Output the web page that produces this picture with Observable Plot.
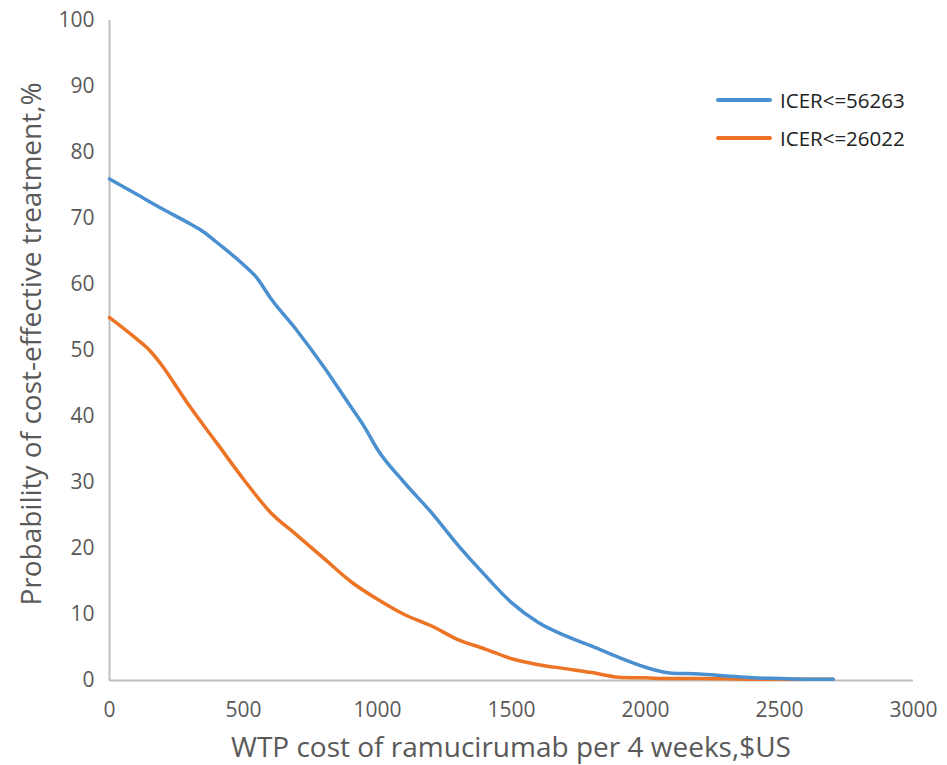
<!DOCTYPE html>
<html>
<head>
<meta charset="utf-8">
<script src="https://cdn.jsdelivr.net/npm/d3@7"></script>
<script src="https://cdn.jsdelivr.net/npm/@observablehq/plot@0.6"></script>
<style>
  html, body { margin: 0; padding: 0; background: #fff; }
  #wrap { position: relative; width: 947px; height: 765px; font-family: "Open Sans", sans-serif; }
  .ytitle { position: absolute; left: 30px; top: 344px; transform: translate(-50%, -50%) rotate(-90deg); white-space: nowrap; font-size: 28px; line-height: 1.1; color: #595959; }
  .xtitle { position: absolute; left: 511px; top: 746px; transform: translate(-50%, -50%); white-space: nowrap; font-size: 28px; line-height: 1.1; color: #595959; }
  .legend { position: absolute; left: 716px; top: 81px; font-size: 20.5px; color: #222; }
  .legend .row { display: flex; align-items: center; height: 38px; }
  .legend .sw { width: 56px; height: 3.5px; border-radius: 2px; margin-right: 8px; }
</style>
</head>
<body>
<div id="wrap"></div>
<script>
const seriesNames = ["ICER<=56263", "ICER<=26022"];
const seriesColors = ["#4a90d0", "#ec7424"];

const wtpBlue = [0, 100, 200, 300, 350, 400, 500, 550, 600, 700, 800, 900, 950, 1000, 1100, 1200, 1300, 1400, 1500, 1600, 1700, 1800, 1900, 2000, 2100, 2200, 2300, 2400, 2500, 2600, 2700];
const probBlue = [76, 73.7, 71.4, 69.2, 68, 66.4, 63, 61, 58, 53, 47.5, 41.5, 38.5, 35, 30, 25.5, 20.5, 16, 11.8, 8.8, 6.8, 5.2, 3.5, 2, 1.1, 1.0, 0.7, 0.4, 0.3, 0.2, 0.2];

const wtpOrange = [0, 100, 150, 200, 250, 300, 400, 500, 600, 700, 800, 900, 1000, 1100, 1200, 1300, 1400, 1500, 1600, 1700, 1800, 1900, 2000, 2100, 2200, 2300, 2400, 2500, 2600, 2700];
const probOrange = [55, 51.8, 50, 47.5, 44.5, 41.5, 36, 30.5, 25.5, 22, 18.5, 15, 12.3, 10, 8.3, 6.2, 4.8, 3.3, 2.4, 1.8, 1.2, 0.5, 0.4, 0.3, 0.3, 0.25, 0.2, 0.2, 0.2, 0.2];

const xTicks = [0, 500, 1000, 1500, 2000, 2500, 3000];
const yTicks = [0, 10, 20, 30, 40, 50, 60, 70, 80, 90, 100];

const xTitle = "WTP cost of ramucirumab per 4 weeks,$US";
const yTitle = "Probability of cost-effective treatment,%";

const blue = wtpBlue.map((x, i) => ({x, y: probBlue[i], s: seriesNames[0]}));
const orange = wtpOrange.map((x, i) => ({x, y: probOrange[i], s: seriesNames[1]}));

const chart = Plot.plot({
  width: 947,
  height: 765,
  marginLeft: 109,
  marginRight: 34,
  marginTop: 20,
  marginBottom: 85,
  style: { fontFamily: "'Open Sans', sans-serif", background: "#fff" },
  x: { domain: [0, 3000] },
  y: { domain: [0, 100] },
  color: { domain: seriesNames, range: seriesColors },
  marks: [
    Plot.axisX({ ticks: xTicks, tickFormat: d3.format("d"), tickSize: 0, tickPadding: 22, fontSize: 21, color: "#595959", label: null }),
    Plot.axisY({ ticks: yTicks, tickFormat: d3.format("d"), tickSize: 0, tickPadding: 15, fontSize: 21, color: "#595959", label: null }),
    Plot.ruleY([0], { stroke: "#bfbfbf", strokeWidth: 2 }),
    Plot.ruleX([0], { stroke: "#bfbfbf", strokeWidth: 2 }),
    Plot.line(orange, { x: "x", y: "y", stroke: "s", strokeWidth: 3.5, curve: "monotone-x" }),
    Plot.line(blue, { x: "x", y: "y", stroke: "s", strokeWidth: 3.5, curve: "monotone-x" })
  ]
});

const wrap = document.getElementById("wrap");
wrap.appendChild(chart);

const yt = document.createElement("div");
yt.className = "ytitle"; yt.textContent = yTitle; wrap.appendChild(yt);
const xt = document.createElement("div");
xt.className = "xtitle"; xt.textContent = xTitle; wrap.appendChild(xt);

const leg = document.createElement("div");
leg.className = "legend";
seriesNames.forEach((n, i) => {
  const row = document.createElement("div"); row.className = "row";
  const sw = document.createElement("div"); sw.className = "sw"; sw.style.background = seriesColors[i];
  const t = document.createElement("span"); t.textContent = n;
  row.appendChild(sw); row.appendChild(t); leg.appendChild(row);
});
wrap.appendChild(leg);
</script>
</body>
</html>
